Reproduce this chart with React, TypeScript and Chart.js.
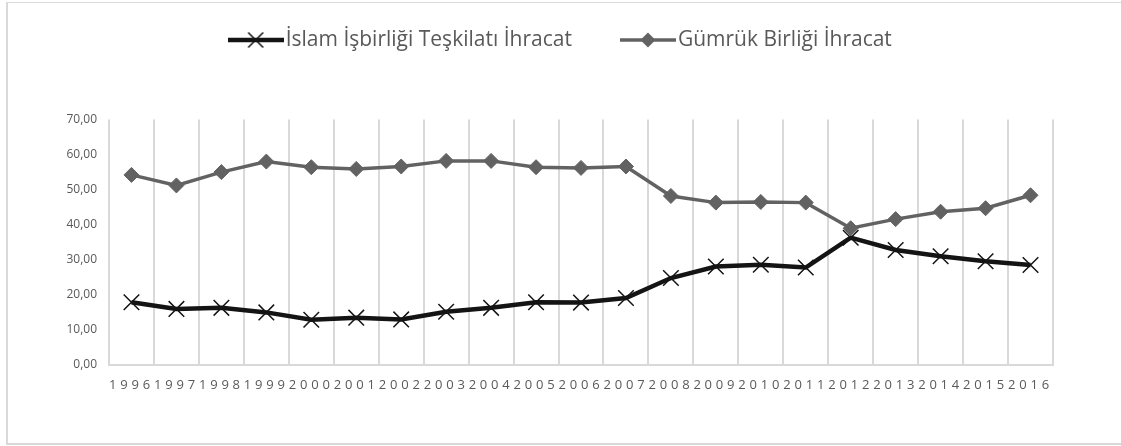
import React, { useEffect, useRef } from 'react';
import { Chart, registerables } from 'chart.js';

Chart.register(...registerables);

// ---- data ----
const years = ['1996', '1997', '1998', '1999', '2000', '2001', '2002', '2003', '2004', '2005', '2006', '2007', '2008', '2009', '2010', '2011', '2012', '2013', '2014', '2015', '2016'];
const islamExports = [17.9, 16.0, 16.3, 15.0, 12.9, 13.5, 13.0, 15.2, 16.3, 17.9, 17.8, 19.1, 24.8, 28.1, 28.6, 27.8, 36.3, 32.8, 31.0, 29.6, 28.5];
const customsUnionExports = [54.2, 51.2, 55.0, 58.0, 56.4, 55.9, 56.6, 58.2, 58.2, 56.4, 56.2, 56.6, 48.2, 46.3, 46.5, 46.3, 39.0, 41.6, 43.7, 44.7, 48.4];
const seriesNames = ['İslam İşbirliği Teşkilatı İhracat', 'Gümrük Birliği İhracat'];
const yMin = 0;
const yMax = 70;
const yStep = 10;

// ---- styles ----
const BLACK = '#141414';
const GRAY = '#626262';
const TEXT = '#595959';
const GRID = '#d9d9d9';
const FONT = "'Open Sans', 'DejaVu Sans', sans-serif";
const CANVAS_W = 1113;
const CANVAS_H = 440;

function makeLegendIcon(kind: 'cross' | 'diamond', color: string): HTMLCanvasElement {
  const c = document.createElement('canvas');
  c.width = 56;
  c.height = 18;
  const g = c.getContext('2d')!;
  g.strokeStyle = color;
  g.fillStyle = color;
  g.lineWidth = kind === 'cross' ? 4.5 : 3.5;
  g.beginPath();
  g.moveTo(0, 9);
  g.lineTo(56, 9);
  g.stroke();
  if (kind === 'cross') {
    g.lineWidth = 1.5;
    g.beginPath();
    g.moveTo(28 - 7.5, 9 - 7.5);
    g.lineTo(28 + 7.5, 9 + 7.5);
    g.moveTo(28 + 7.5, 9 - 7.5);
    g.lineTo(28 - 7.5, 9 + 7.5);
    g.stroke();
  } else {
    g.beginPath();
    g.moveTo(28 - 7.5, 9);
    g.lineTo(28, 9 - 7.5);
    g.lineTo(28 + 7.5, 9);
    g.lineTo(28, 9 + 7.5);
    g.closePath();
    g.fill();
  }
  return c;
}

const legendSpacer = {
  id: 'legendSpacer',
  beforeInit(chart: any) {
    const legend = chart.legend;
    if (!legend) return;
    const fit = legend.fit;
    legend.fit = function () {
      fit.call(this);
      this.height += 59;
    };
  },
};

const spacedXLabels = {
  id: 'spacedXLabels',
  beforeDraw(chart: any) {
    const xs = chart.scales.x;
    if (xs && !xs.__spaced) {
      const orig = xs.drawLabels.bind(xs);
      xs.drawLabels = (area: any) => {
        const ctx = chart.ctx;
        ctx.save();
        (ctx as any).letterSpacing = '3.8px';
        orig(area);
        ctx.restore();
      };
      xs.__spaced = true;
    }
  },
};

export default function App() {
  const canvasRef = useRef<HTMLCanvasElement | null>(null);

  useEffect(() => {
    document.body.style.overflow = 'hidden';
    const canvas = canvasRef.current;
    if (!canvas) return;
    const icons = [makeLegendIcon('cross', BLACK), makeLegendIcon('diamond', GRAY)];
    const chart = new Chart(canvas, {
      type: 'line',
      data: {
        labels: years,
        datasets: [
          {
            label: seriesNames[0],
            data: islamExports,
            borderColor: BLACK,
            backgroundColor: BLACK,
            borderWidth: 4.5,
            pointStyle: 'crossRot',
            pointRadius: 11,
            pointBorderWidth: 1.5,
            pointBorderColor: BLACK,
            pointBackgroundColor: BLACK,
            tension: 0,
            order: 1,
          },
          {
            label: seriesNames[1],
            data: customsUnionExports,
            borderColor: GRAY,
            backgroundColor: GRAY,
            borderWidth: 3.5,
            pointStyle: 'rectRot',
            pointRadius: 7.5,
            pointBorderWidth: 1,
            pointBorderColor: GRAY,
            pointBackgroundColor: GRAY,
            tension: 0,
            order: 0,
          },
        ],
      },
      options: {
        responsive: false,
        animation: false,
        devicePixelRatio: 1,
        layout: { padding: { top: -30, right: 1, bottom: 0, left: 0 } },
        plugins: {
          legend: {
            position: 'top',
            labels: {
              usePointStyle: true,
              pointStyleWidth: 39,
              padding: 56.5,
              color: TEXT,
              font: { family: FONT, size: 21 },
              generateLabels: () =>
                seriesNames.map((name, i) => ({
                  text: name,
                  pointStyle: icons[i] as any,
                  fillStyle: i === 0 ? BLACK : GRAY,
                  strokeStyle: i === 0 ? BLACK : GRAY,
                  lineWidth: 0,
                  hidden: false,
                  datasetIndex: i,
                  fontColor: TEXT,
                })),
            },
          },
          tooltip: { enabled: false },
        },
        scales: {
          x: {
            offset: true,
            grid: { offset: true, color: GRID, lineWidth: 2, drawTicks: false },
            border: { color: GRID, width: 2 },
            ticks: {
              color: TEXT,
              font: { family: FONT, size: 13 },
              padding: 12,
              autoSkip: false,
              maxRotation: 0,
              minRotation: 0,
            },
            afterFit: (s: any) => {
              s.height = 78;
            },
          },
          y: {
            min: yMin,
            max: yMax,
            ticks: {
              stepSize: yStep,
              color: TEXT,
              font: { family: FONT, size: 12 },
              padding: 12,
              callback: (v: any) => Number(v).toFixed(2).replace('.', ','),
            },
            grid: { display: false, drawTicks: false },
            border: { display: false },
            afterFit: (s: any) => {
              s.width = 101;
            },
          },
          rightGutter: {
            position: 'right',
            display: true,
            grid: { display: false, drawTicks: false },
            border: { display: false },
            ticks: { display: false },
            afterFit: (s: any) => {
              s.width = 67;
            },
          },
        },
      },
      plugins: [legendSpacer, spacedXLabels],
    } as any);
    return () => chart.destroy();
  }, []);

  return (
    <div
      style={{
        position: 'absolute',
        left: 6,
        top: 2,
        width: CANVAS_W + 4,
        height: CANVAS_H + 3,
        boxSizing: 'border-box',
        borderTop: `1px solid ${GRID}`,
        borderLeft: `2px solid ${GRID}`,
        borderRight: `2px solid ${GRID}`,
        borderBottom: `2px solid ${GRID}`,
        background: '#fff',
      }}
    >
      <canvas ref={canvasRef} width={CANVAS_W} height={CANVAS_H} style={{ display: 'block' }} />
    </div>
  );
}
